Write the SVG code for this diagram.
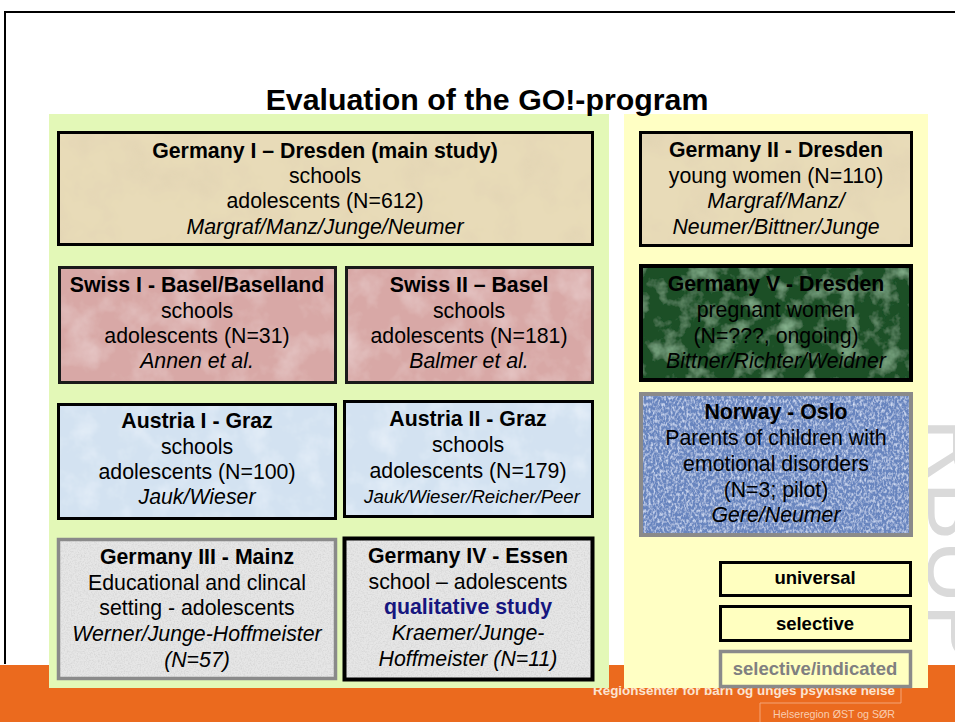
<svg xmlns="http://www.w3.org/2000/svg" width="955" height="722" viewBox="0 0 955 722">
<style>
  text { font-family: "Liberation Sans", Arial, sans-serif; fill: #000; }
  .t { font-size: 21.3px; text-anchor: middle; }
  .b { font-weight: bold; }
  .i { font-style: italic; }
  .lg { font-size: 18.5px; font-weight: bold; text-anchor: middle; }
  .bk { fill: none; stroke: #000; stroke-width: 3; }
  .gr { fill: none; stroke: #8a8a8a; stroke-width: 3.5; }
</style>
<defs>
  <filter id="fBeige" x="0" y="0" width="100%" height="100%">
    <feTurbulence type="fractalNoise" baseFrequency="0.025" numOctaves="4" seed="3" result="n"/>
    <feColorMatrix in="n" type="matrix" values="0 0 0 0 0.74  0 0 0 0 0.64  0 0 0 0 0.45  0 0 0 1.4 -0.6" result="c"/>
    <feComposite in="c" in2="SourceAlpha" operator="in" result="cc"/>
    <feMerge><feMergeNode in="SourceGraphic"/><feMergeNode in="cc"/></feMerge>
  </filter>
  <filter id="fPink" x="0" y="0" width="100%" height="100%">
    <feTurbulence type="fractalNoise" baseFrequency="0.03" numOctaves="4" seed="5" result="n"/>
    <feColorMatrix in="n" type="matrix" values="0 0 0 0 0.90  0 0 0 0 0.76  0 0 0 0 0.76  0 0 0 1.0 -0.45" result="c"/>
    <feComposite in="c" in2="SourceAlpha" operator="in" result="cc"/>
    <feMerge><feMergeNode in="SourceGraphic"/><feMergeNode in="cc"/></feMerge>
  </filter>
  <filter id="fLblue" x="0" y="0" width="100%" height="100%">
    <feTurbulence type="fractalNoise" baseFrequency="0.04" numOctaves="4" seed="9" result="n"/>
    <feColorMatrix in="n" type="matrix" values="0 0 0 0 0.90  0 0 0 0 0.94  0 0 0 0 0.99  0 0 0 1.0 -0.45" result="c"/>
    <feComposite in="c" in2="SourceAlpha" operator="in" result="cc"/>
    <feMerge><feMergeNode in="SourceGraphic"/><feMergeNode in="cc"/></feMerge>
  </filter>
  <filter id="fGray" x="0" y="0" width="100%" height="100%">
    <feTurbulence type="fractalNoise" baseFrequency="0.7" numOctaves="2" seed="11" result="n"/>
    <feColorMatrix in="n" type="matrix" values="0 0 0 0 0.6  0 0 0 0 0.6  0 0 0 0 0.6  0 0 0 1.4 -0.55" result="c"/>
    <feComposite in="c" in2="SourceAlpha" operator="in" result="cc"/>
    <feMerge><feMergeNode in="SourceGraphic"/><feMergeNode in="cc"/></feMerge>
  </filter>
  <filter id="fGreen" x="0" y="0" width="100%" height="100%">
    <feTurbulence type="fractalNoise" baseFrequency="0.05" numOctaves="4" seed="7" result="n"/>
    <feColorMatrix in="n" type="matrix" values="0 0 0 0 0.32  0 0 0 0 0.58  0 0 0 0 0.36  0 0 0 1.5 -0.7" result="c"/>
    <feComposite in="c" in2="SourceAlpha" operator="in" result="cc"/>
    <feMerge><feMergeNode in="SourceGraphic"/><feMergeNode in="cc"/></feMerge>
  </filter>
  <filter id="fBlue" x="0" y="0" width="100%" height="100%">
    <feTurbulence type="fractalNoise" baseFrequency="0.45 0.3" numOctaves="2" seed="13" result="n"/>
    <feColorMatrix in="n" type="matrix" values="0 0 0 0 0.74  0 0 0 0 0.82  0 0 0 0 0.98  0 0 0 2.0 -0.85" result="c"/>
    <feComposite in="c" in2="SourceAlpha" operator="in" result="cc"/>
    <feMerge><feMergeNode in="SourceGraphic"/><feMergeNode in="cc"/></feMerge>
  </filter>
</defs>

<!-- background -->
<rect x="0" y="0" width="955" height="722" fill="#ffffff"/>
<rect x="0" y="665" width="955" height="57" fill="#eb6a1e"/>
<path d="M5,664 V12 H955" fill="none" stroke="#000" stroke-width="2"/>

<!-- watermark -->
<text transform="translate(928,418) rotate(90)" style="font-size:88px; fill:#dadada;">RBUP</text>

<!-- footer -->
<g id="footer">
  <path d="M901,676 V703 H760 V722" fill="none" stroke="#f4a476" stroke-width="1"/>
  <text x="593" y="695" textLength="302" lengthAdjust="spacingAndGlyphs" style="font-size:13px; font-weight:bold; fill:#fbe4d2;">Regionsenter for barn og unges psykiske helse</text>
  <text x="773" y="718" textLength="122" lengthAdjust="spacingAndGlyphs" style="font-size:11px; fill:#f9cdb0;">Helseregion ØST og SØR</text>
</g>

<!-- panels -->
<rect x="49" y="114" width="560" height="574" fill="#e3f8b7"/>
<rect x="624" y="114" width="304" height="574" fill="#ffffc4"/>

<text x="487" y="110" style="font-size:30.3px; font-weight:bold; text-anchor:middle;">Evaluation of the GO!-program</text>

<g id="germany1">
  <rect x="58.5" y="132.5" width="534" height="112" fill="#e8dbb8" filter="url(#fBeige)"/>
  <rect x="58.5" y="132.5" width="534" height="112" class="bk"/>
  <text class="t b" x="325" y="158">Germany I – Dresden (main study)</text>
  <text class="t" x="325" y="183">schools</text>
  <text class="t" x="325" y="208">adolescents (N=612)</text>
  <text class="t i" x="325" y="234">Margraf/Manz/Junge/Neumer</text>
</g>

<g id="swiss1">
  <rect x="59.5" y="267.5" width="276" height="115" fill="#d8a8a6" filter="url(#fPink)"/>
  <rect x="59.5" y="267.5" width="276" height="115" class="bk" style="stroke:#1a1a1a"/>
  <text class="t b" x="197" y="292">Swiss I - Basel/Baselland</text>
  <text class="t" x="197" y="318">schools</text>
  <text class="t" x="197" y="343">adolescents (N=31)</text>
  <text class="t i" x="197" y="368">Annen et al.</text>
</g>

<g id="swiss2">
  <rect x="346.5" y="267.5" width="246" height="115" fill="#d8a8a6" filter="url(#fPink)"/>
  <rect x="346.5" y="267.5" width="246" height="115" class="bk" style="stroke:#1a1a1a"/>
  <text class="t b" x="469" y="292">Swiss II – Basel</text>
  <text class="t" x="469" y="318">schools</text>
  <text class="t" x="469" y="343">adolescents (N=181)</text>
  <text class="t i" x="469" y="368">Balmer et al.</text>
</g>

<g id="austria1">
  <rect x="58.5" y="404.5" width="277" height="114" fill="#d3e2f1" filter="url(#fLblue)"/>
  <rect x="58.5" y="404.5" width="277" height="114" class="bk"/>
  <text class="t b" x="197" y="428">Austria I - Graz</text>
  <text class="t" x="197" y="454">schools</text>
  <text class="t" x="197" y="479">adolescents (N=100)</text>
  <text class="t i" x="197" y="504">Jauk/Wieser</text>
</g>

<g id="austria2">
  <rect x="344.5" y="401.5" width="248" height="115" fill="#d3e2f1" filter="url(#fLblue)"/>
  <rect x="344.5" y="401.5" width="248" height="115" class="bk"/>
  <text class="t b" x="468" y="426">Austria II - Graz</text>
  <text class="t" x="468" y="452">schools</text>
  <text class="t" x="468" y="478">adolescents (N=179)</text>
  <text class="t i" x="472" y="503" style="font-size:18.6px;">Jauk/Wieser/Reicher/Peer</text>
</g>

<g id="germany3">
  <rect x="58.5" y="539.5" width="277" height="139" fill="#e6e6e6" filter="url(#fGray)"/>
  <rect x="58.5" y="539.5" width="277" height="139" class="gr"/>
  <text class="t b" x="197" y="564">Germany III - Mainz</text>
  <text class="t" x="197" y="590">Educational and clincal</text>
  <text class="t" x="197" y="615">setting - adolescents</text>
  <text class="t i" x="197" y="641">Werner/Junge-Hoffmeister</text>
  <text class="t i" x="197" y="667">(N=57)</text>
</g>

<g id="germany4">
  <rect x="344.5" y="538.5" width="248" height="141" fill="#e6e6e6" filter="url(#fGray)"/>
  <rect x="344.5" y="538.5" width="248" height="141" class="bk" style="stroke-width:4"/>
  <text class="t b" x="468" y="563">Germany IV - Essen</text>
  <text class="t" x="468" y="589">school – adolescents</text>
  <text class="t b" x="468" y="614" style="fill:#16167f;">qualitative study</text>
  <text class="t i" x="468" y="640">Kraemer/Junge-</text>
  <text class="t i" x="468" y="666">Hoffmeister (N=11)</text>
</g>

<g id="germany2">
  <rect x="640.5" y="132.5" width="271" height="113" fill="#e8dbb8" filter="url(#fBeige)"/>
  <rect x="640.5" y="132.5" width="271" height="113" class="bk"/>
  <text class="t b" x="776" y="157">Germany II - Dresden</text>
  <text class="t" x="776" y="183">young women (N=110)</text>
  <text class="t i" x="776" y="208">Margraf/Manz/</text>
  <text class="t i" x="776" y="234">Neumer/Bittner/Junge</text>
</g>

<g id="germany5">
  <rect x="641" y="266" width="270" height="114" fill="#1d4f27" filter="url(#fGreen)"/>
  <rect x="641" y="266" width="270" height="114" class="bk" style="stroke-width:4"/>
  <text class="t b" x="776" y="291">Germany V - Dresden</text>
  <text class="t" x="776" y="317">pregnant women</text>
  <text class="t" x="776" y="343">(N=???, ongoing)</text>
  <text class="t i" x="776" y="368">Bittner/Richter/Weidner</text>
</g>

<g id="norway">
  <rect x="641" y="394" width="270" height="141" fill="#6785bf" filter="url(#fBlue)"/>
  <rect x="641" y="394" width="270" height="141" class="gr" style="stroke-width:4"/>
  <text class="t b" x="776" y="419">Norway - Oslo</text>
  <text class="t" x="776" y="445">Parents of children with</text>
  <text class="t" x="776" y="471">emotional disorders</text>
  <text class="t" x="776" y="497">(N=3; pilot)</text>
  <text class="t i" x="776" y="522">Gere/Neumer</text>
</g>

<g id="legend-universal">
  <rect x="720.5" y="562.5" width="190" height="33" class="bk" style="fill:#ffffc0"/>
  <text class="lg" x="815" y="584">universal</text>
</g>
<g id="legend-selective">
  <rect x="720.5" y="606.5" width="190" height="34" class="bk" style="fill:#ffffc0"/>
  <text class="lg" x="815" y="630">selective</text>
</g>
<g id="legend-indicated">
  <rect x="720.5" y="651.5" width="190" height="35" class="gr" style="fill:#ffffc0"/>
  <text class="lg" x="815" y="675" style="fill:#808080;">selective/indicated</text>
</g>

<g id="connectors"></g>
</svg>
